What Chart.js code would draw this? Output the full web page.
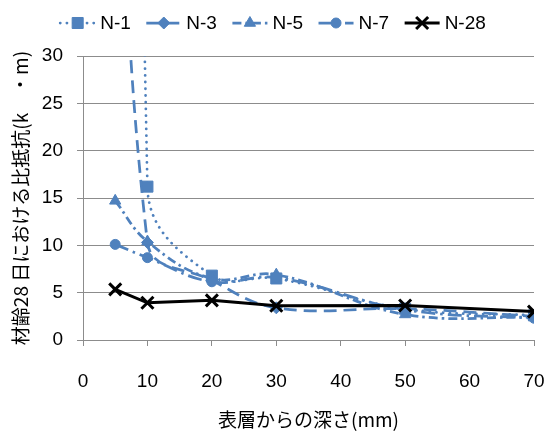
<!DOCTYPE html>
<html>
<head>
<meta charset="utf-8">
<script src="https://cdn.jsdelivr.net/npm/chart.js@4/dist/chart.umd.min.js"></script>
<style>
  html, body { margin: 0; padding: 0; background: #fff; }
</style>
</head>
<body>
<canvas id="chart" width="546" height="432"></canvas>
<script>
// depths (mm) where resistivity was measured
const depths = [5, 10, 20, 30, 50, 70];
const seriesNames = ['N-1', 'N-3', 'N-5', 'N-7', 'N-28'];

// values (k・m); the 5 mm points of N-1 / N-3 are far above the axis max
const n1 = [500, 16.2, 6.8, 6.5, 3.3, 2.6];
const n3 = [95, 10.3, 6.3, 3.4, 3.3, 2.5];
const n5 = [14.7, 10.4, 6.5, 6.9, 2.7, 2.4];
const n7 = [10.1, 8.7, 6.15, 6.6, 3.2, 2.3];
const n28 = [5.35, 3.93, 4.19, 3.62, 3.65, 3.0];

const xTicks = [0, 10, 20, 30, 40, 50, 60, 70];
const yTicks = [0, 5, 10, 15, 20, 25, 30];

const xTitle = '表層からの深さ(mm)';
const yTitle = '材齢28 日における比抵抗(k　・m)';

const blue = '#4F81BD';
const latin = "'Liberation Sans', Arial, sans-serif";
const cjk = "'Noto Sans CJK JP', 'Noto Sans', sans-serif";

function toPoints(values) {
    return depths.map((d, i) => ({ x: d, y: values[i] }));
}

function blueSeries(label, values, dash, cap, style, radius, order) {
    return {
        label: label,
        data: toPoints(values),
        borderColor: blue,
        borderWidth: 2.75,
        borderDash: dash,
        borderCapStyle: cap,
        tension: 0.4,
        pointStyle: style,
        pointRadius: radius,
        pointBackgroundColor: blue,
        pointBorderColor: blue,
        pointBorderWidth: 1,
        order: order
    };
}

const datasets = [
    blueSeries(seriesNames[0], n1, [0.1, 6.6], 'round', 'rect', 7.8, 4),
    blueSeries(seriesNames[1], n3, [13, 7], 'butt', 'rectRot', 6, 3),
    blueSeries(seriesNames[2], n5, [9, 4, 2.5, 4], 'butt', 'triangle', 6.5, 2),
    blueSeries(seriesNames[3], n7, [14, 5, 2.5, 5], 'butt', 'circle', 5, 1),
    {
        label: seriesNames[4],
        data: toPoints(n28),
        borderColor: '#000',
        borderWidth: 3,
        tension: 0,
        pointStyle: 'crossRot',
        pointRadius: 8.5,
        pointBackgroundColor: '#000',
        pointBorderColor: '#000',
        pointBorderWidth: 3,
        order: 0
    }
];

// legend drawn by hand: line sample with marker in the middle
const sampleLegend = {
    id: 'sampleLegend',
    afterDraw(chart) {
        const ctx = chart.ctx;
        const sampleW = 35, gapText = 5, gapItem = 15.5, y = 23;
        const items = chart.data.datasets;
        ctx.save();
        ctx.font = '19px ' + latin;
        let total = gapItem * (items.length - 1);
        items.forEach(ds => { total += sampleW + gapText + ctx.measureText(ds.label).width; });
        let x = chart.width / 2 - total / 2;
        items.forEach(ds => {
            ctx.strokeStyle = ds.borderColor;
            ctx.lineWidth = ds.borderWidth;
            ctx.lineCap = ds.borderCapStyle || 'butt';
            ctx.setLineDash(ds.borderDash || []);
            ctx.beginPath();
            ctx.moveTo(x, y);
            ctx.lineTo(x + sampleW, y);
            ctx.stroke();
            ctx.setLineDash([]);
            ctx.lineCap = 'butt';
            ctx.fillStyle = ds.pointBackgroundColor;
            ctx.strokeStyle = ds.pointBorderColor;
            ctx.lineWidth = ds.pointBorderWidth;
            Chart.helpers.drawPoint(ctx, {
                pointStyle: ds.pointStyle,
                radius: ds.pointRadius,
                rotation: 0,
                borderWidth: ds.pointBorderWidth
            }, x + sampleW / 2, y);
            ctx.fillStyle = '#000';
            ctx.textAlign = 'left';
            ctx.textBaseline = 'middle';
            ctx.fillText(ds.label, x + sampleW + gapText, y + 1);
            x += sampleW + gapText + ctx.measureText(ds.label).width + gapItem;
        });
        ctx.restore();
    }
};

const ctx = document.getElementById('chart').getContext('2d');
const myChart = new Chart(ctx, {
    type: 'line',
    data: { datasets: datasets },
    options: {
        responsive: false,
        animation: false,
        layout: { padding: { top: 56, right: 12, bottom: 0, left: 0 } },
        plugins: {
            legend: { display: false },
            tooltip: { enabled: false }
        },
        scales: {
            x: {
                type: 'linear',
                min: 0,
                max: 70,
                afterBuildTicks: axis => { axis.ticks = xTicks.map(v => ({ value: v })); },
                afterFit: axis => {
                    axis.height = 92;
                    // tick padding is also added to the side overhang, drop it
                    axis.paddingLeft = 0;
                    axis.paddingRight = 11;
                },
                grid: {
                    drawOnChartArea: false,
                    drawTicks: true,
                    tickLength: 6,
                    color: '#8c8c8c',
                    lineWidth: 1
                },
                border: { display: true, color: '#8c8c8c', width: 1 },
                ticks: {
                    color: '#000',
                    padding: 24,
                    maxRotation: 0,
                    font: { family: latin, size: 19 }
                },
                title: {
                    display: true,
                    text: xTitle,
                    color: '#000',
                    padding: { top: 0, bottom: 1 },
                    font: { family: cjk, size: 19 }
                }
            },
            y: {
                min: 0,
                max: 30,
                afterBuildTicks: axis => { axis.ticks = yTicks.map(v => ({ value: v })); },
                afterFit: axis => { axis.width = 83; },
                grid: {
                    drawTicks: true,
                    tickLength: 6,
                    color: '#8c8c8c',
                    lineWidth: 1
                },
                border: { display: true, color: '#8c8c8c', width: 1 },
                ticks: {
                    color: '#000',
                    padding: 14,
                    font: { family: latin, size: 19 }
                },
                title: {
                    display: true,
                    text: yTitle,
                    color: '#000',
                    padding: { top: 9, bottom: 0 },
                    font: { family: cjk, size: 19 }
                }
            }
        }
    },
    plugins: [sampleLegend]
});
</script>
</body>
</html>
